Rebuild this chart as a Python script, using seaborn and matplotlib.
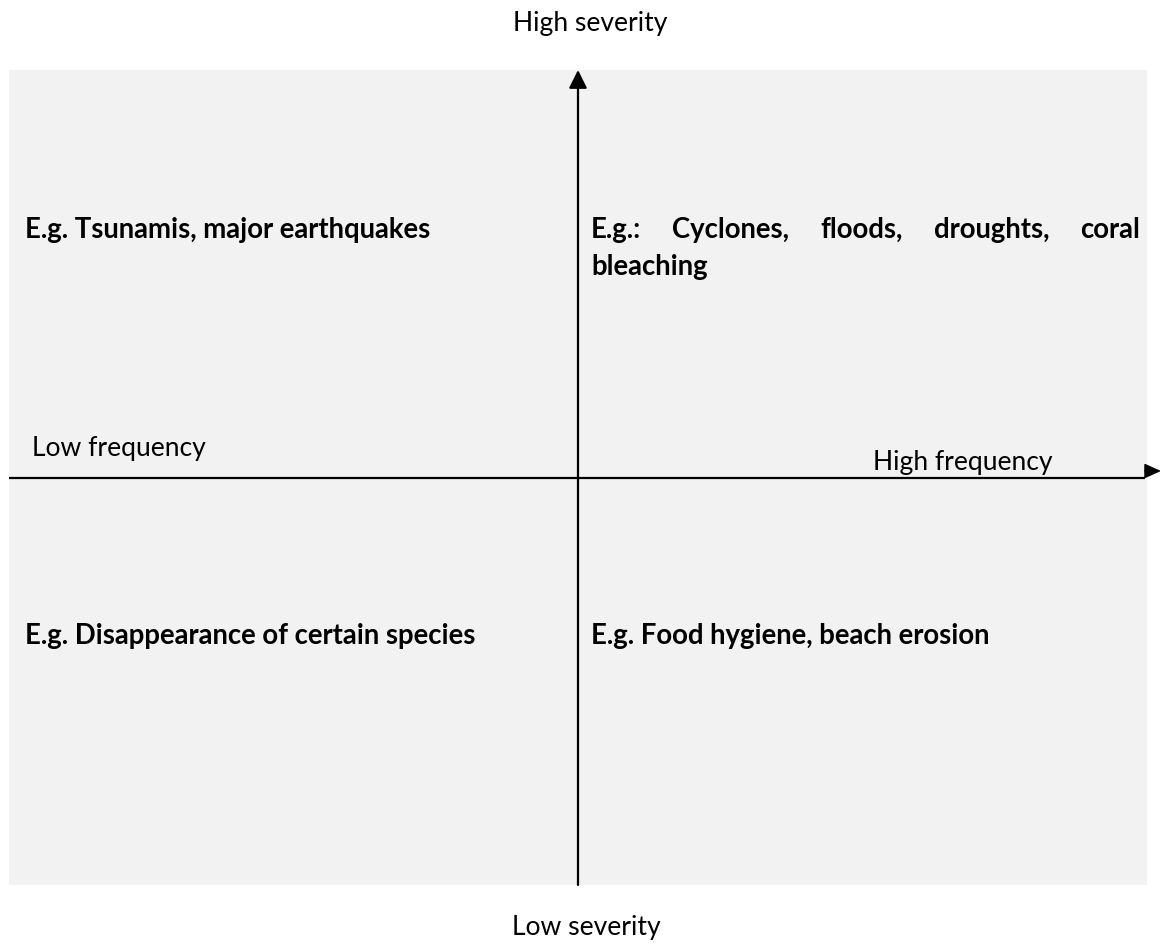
import matplotlib
matplotlib.use("Agg")
import matplotlib.pyplot as plt
import seaborn as sns
from matplotlib.patches import Rectangle

# Testi del diagramma (gravità x frequenza)
etichette_y = ["High severity", "Low severity"]
etichette_x = ["Low frequency", "High frequency"]
quadranti = [
    "E.g. Tsunamis, major earthquakes",
    "E.g.: Cyclones, floods, droughts, coral",
    "bleaching",
    "E.g. Disappearance of certain species",
    "E.g. Food hygiene, beach erosion",
]

sns.set_theme(style="white")
plt.rcParams["font.family"] = ["Lato", "DejaVu Sans"]
plt.rcParams["text.color"] = "black"

W, H = 1161, 945
fig = plt.figure(figsize=(W / 100, H / 100), dpi=100)
ax = fig.add_axes([0, 0, 1, 1])
ax.set_xlim(0, W)
ax.set_ylim(H, 0)
ax.axis("off")
renderer = fig.canvas.get_renderer()


def larghezza(testo, size, weight="normal"):
    t = ax.text(0, 0, testo, fontsize=size, fontweight=weight)
    w = t.get_window_extent(renderer).width
    t.remove()
    return w


def adatta(testo, target, weight="normal", base=18):
    return base * target / larghezza(testo, base, weight)


fs_reg = adatta(etichette_x[0], 174)
fs_bold = adatta(quadranti[0], 408, "bold")

# sfondo grigio
ax.add_patch(Rectangle((9, 71), 1138, 815, facecolor="#f2f2f2", edgecolor="none", zorder=0))

# asse verticale con freccia
ax.annotate("", xy=(578, 71), xytext=(578, 886),
            arrowprops=dict(arrowstyle="-|>,head_length=1.1,head_width=0.55",
                            mutation_scale=10, lw=1.6, color="black",
                            shrinkA=0, shrinkB=0))
# asse orizzontale + piccola freccia a destra
ax.plot([9, 1145], [479, 479], color="black", lw=1.6, solid_capstyle="butt")
ax.annotate("", xy=(1161, 472), xytext=(1145, 472),
            arrowprops=dict(arrowstyle="-|>,head_length=1.0,head_width=0.45",
                            mutation_scale=10, lw=1.2, color="black",
                            shrinkA=0, shrinkB=0))

# etichette degli assi
ax.text(590, 31, etichette_y[0], fontsize=fs_reg, ha="center", va="baseline")
ax.text(586, 935, etichette_y[1], fontsize=fs_reg, ha="center", va="baseline")
ax.text(32, 456, etichette_x[0], fontsize=fs_reg, ha="left", va="baseline")
ax.text(873, 470, etichette_x[1], fontsize=fs_reg, ha="left", va="baseline")

# quadranti
ax.text(25, 238, quadranti[0], fontsize=fs_bold, fontweight="bold", va="baseline")

# riga giustificata tra 591 e 1140
parole = quadranti[1].split()
larg = [larghezza(p, fs_bold, "bold") for p in parole]
gap = (1140 - 591 - sum(larg)) / (len(parole) - 1)
x = 591
for p, w in zip(parole, larg):
    ax.text(x, 238, p, fontsize=fs_bold, fontweight="bold", va="baseline")
    x += w + gap
ax.text(591, 275, quadranti[2], fontsize=fs_bold, fontweight="bold", va="baseline")

ax.text(25, 644, quadranti[3], fontsize=fs_bold, fontweight="bold", va="baseline")
ax.text(591, 644, quadranti[4], fontsize=fs_bold, fontweight="bold", va="baseline")

fig.savefig("out.png", dpi=100)
